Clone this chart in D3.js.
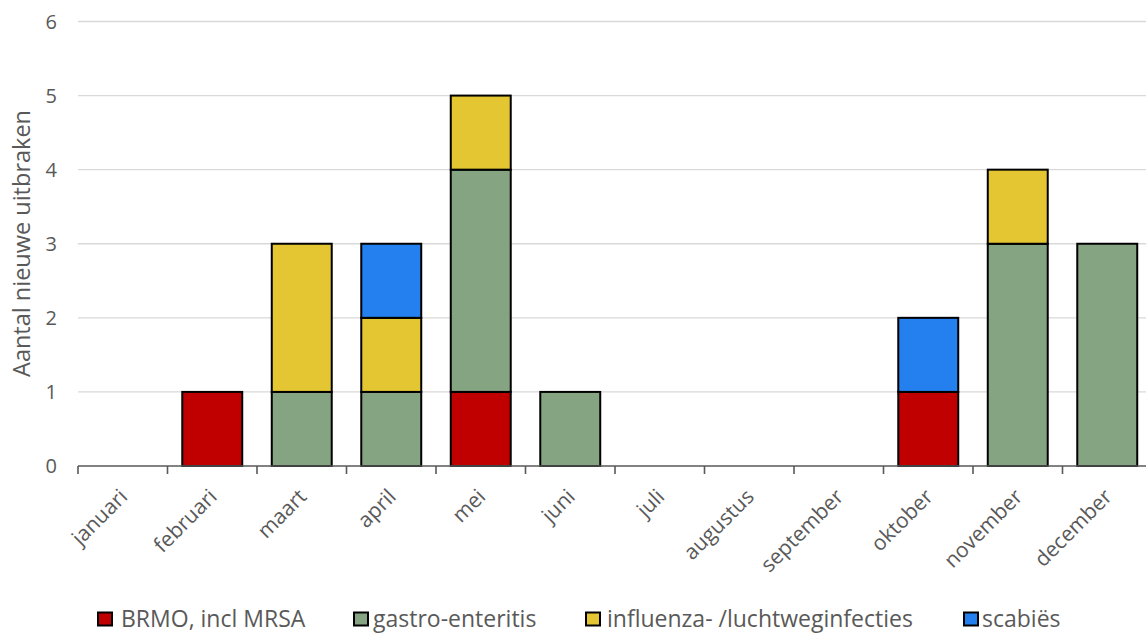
<!DOCTYPE html>
<html><head><meta charset="utf-8">
<script src="https://cdn.jsdelivr.net/npm/d3@7"></script>
<style>body{margin:0;background:#fff}svg{display:block}</style>
</head><body>
<script>
const months = ["januari","februari","maart","april","mei","juni","juli","augustus","september","oktober","november","december"];
const seriesNames = ["BRMO, incl MRSA","gastro-enteritis","influenza- /luchtweginfecties","scabiës"];
const brmo      = [0,1,0,0,1,0,0,0,0,1,0,0];
const gastro    = [0,0,1,1,3,1,0,0,0,0,3,3];
const influenza = [0,0,2,1,1,0,0,0,0,0,1,0];
const scabies   = [0,0,0,1,0,0,0,0,0,1,0,0];
const yTicks = [0,1,2,3,4,5,6];
const colors = ["#C00000","#85A482","#E3C632","#2380EE"];

const W = 1146, H = 633;
const font = "Open Sans, sans-serif";
const txt = "#595959";
const svg = d3.select("body").append("svg").attr("width", W).attr("height", H);

const x = d3.scaleBand().domain(months).range([78, 1152]).paddingInner(0.33).paddingOuter(0.165);
const y = d3.scaleLinear().domain([0, 6]).range([466, 21.5]);

// gridlines
svg.append("g").selectAll("line").data(yTicks.slice(1)).join("line")
  .attr("x1", 78).attr("x2", W).attr("y1", d => y(d)).attr("y2", d => y(d))
  .attr("stroke", "#d9d9d9").attr("stroke-width", 1.3);

// y labels
svg.append("g").selectAll("text").data(yTicks).join("text")
  .attr("x", 57).attr("y", d => y(d)).attr("dy", "0.36em").attr("text-anchor", "end")
  .attr("font-family", font).attr("font-size", 20).attr("fill", txt).text(d => d);

svg.append("text").attr("transform", `translate(30,243.5) rotate(-90)`)
  .attr("text-anchor", "middle").attr("font-family", font).attr("font-size", 23.5)
  .attr("fill", txt).text("Aantal nieuwe uitbraken");

// stacked bars
const table = months.map((m, i) => ({month: m, s0: brmo[i], s1: gastro[i], s2: influenza[i], s3: scabies[i]}));
const stack = d3.stack().keys(["s0","s1","s2","s3"])(table);
svg.append("g").selectAll("g").data(stack).join("g").attr("fill", (d, i) => colors[i])
  .selectAll("rect").data(d => d.filter(p => p[1] - p[0] > 0)).join("rect")
  .attr("x", d => x(d.data.month)).attr("width", x.bandwidth())
  .attr("y", d => y(d[1])).attr("height", d => y(d[0]) - y(d[1]))
  .attr("stroke", "#000").attr("stroke-width", 2);

// x axis
const xa = svg.append("g");
xa.append("line").attr("x1", 78).attr("x2", W).attr("y1", 466).attr("y2", 466)
  .attr("stroke", txt).attr("stroke-width", 1.6);
const step = x.step();
const tickPos = d3.range(13).map(i => 78 + i * step);
xa.selectAll("line.t").data(tickPos).join("line").attr("class", "t")
  .attr("x1", d => d).attr("x2", d => d).attr("y1", 466).attr("y2", 474)
  .attr("stroke", txt).attr("stroke-width", 1.6);
xa.selectAll("text").data(months).join("text")
  .attr("transform", d => `translate(${x(d) + x.bandwidth()/2 + 6},${498}) rotate(-45)`)
  .attr("text-anchor", "end").attr("font-family", font).attr("font-size", 21)
  .attr("fill", txt).text(d => d);

// legend
const legSw = [98, 354, 586, 964];
const legTx = [121, 373, 607, 982];
const lg = svg.append("g").selectAll("g").data(seriesNames).join("g");
lg.append("rect").attr("x", (d, i) => legSw[i]).attr("y", 612.5).attr("width", 14).attr("height", 13)
  .attr("fill", (d, i) => colors[i]).attr("stroke", "#000").attr("stroke-width", 2);
lg.append("text").attr("x", (d, i) => legTx[i]).attr("y", 619).attr("dy", "0.36em")
  .attr("font-family", font).attr("font-size", 23).attr("fill", txt).text(d => d);
</script>
</body></html>
